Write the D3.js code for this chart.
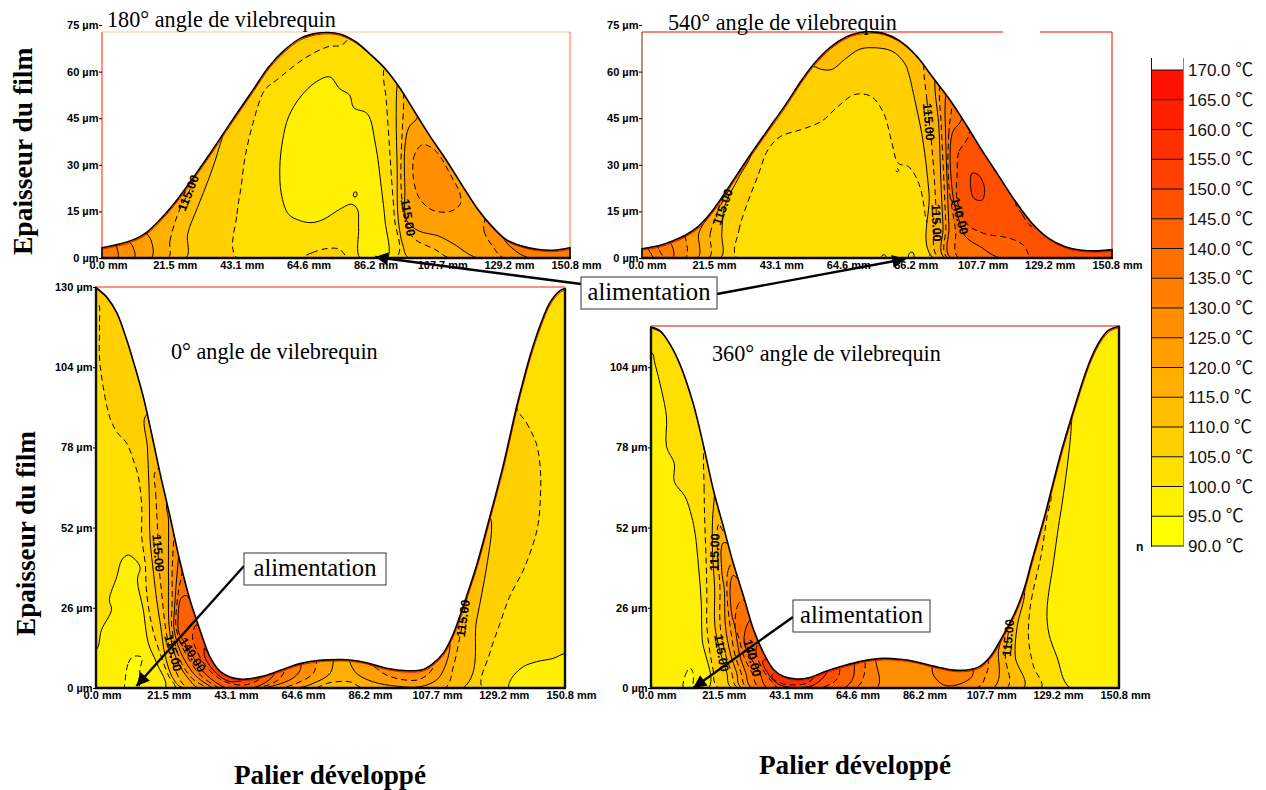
<!DOCTYPE html>
<html><head><meta charset="utf-8">
<style>html,body{margin:0;padding:0;background:#fff}svg{display:block}</style>
<script src="https://d3js.org/d3.v7.min.js"></script>
</head><body><svg id="c" width="1266" height="790"></svg>
<script>
// ---------- data: (mm along the bearing, µm of film) ----------
const xTicks=[0,21.5,43.1,64.6,86.2,107.7,129.2,150.8];
const yTicksSmall=[0,15,30,45,60,75];
const yTicks0=[0,26,52,78,104,130];
const yTicks360=[0,26,52,78,104];
const legendLevels=[170,165,160,155,150,145,140,135,130,125,120,115,110,105,100,95,90];

const profile180=[[0,3.3],[5.3,4.4],[10.4,6],[14.3,8.2],[19.3,13],[24.4,19],[29.5,26],[34.6,33.3],[38.4,39],[43.5,46.6],[48.6,54],[53.7,61.5],[58.8,66.9],[63.9,70.7],[69,72.3],[72.8,72.6],[76.6,72.1],[81.7,69.6],[86.8,65.3],[91.2,61],[95.7,55.1],[100.8,47],[105.9,38.9],[111,31.4],[116.1,23.3],[121.1,15.7],[125,10.9],[130.1,6],[135.1,3.9],[140.2,2.8],[145.3,2.5],[150.8,3.3]];
const profile540=[[0,3],[6,4.1],[9.9,5.5],[13.9,7.3],[17.9,10],[21.9,14.3],[25.8,19.7],[29.8,25.8],[35.1,33.7],[40.4,41.3],[45.7,48.8],[51,56.9],[55,62.3],[60.3,67.7],[65.6,71.2],[69.6,72.5],[73.5,72.8],[77.5,72.3],[82.8,69.8],[88.1,65],[93.4,58],[98.7,51],[104,42.9],[109.3,34.3],[114.6,26.2],[119.9,18.1],[125.2,11.1],[130.5,6.3],[135.8,3.6],[141.1,2.5],[146.4,2.3],[150.8,2.7]];
const profile0=[[0,129.8],[1.5,128.6],[3.4,126.8],[6.7,121.6],[9.9,112.8],[12.5,104.2],[15.2,94.4],[17.4,84.7],[20.6,69.6],[23.8,55.6],[27,41],[30.2,28.6],[33.4,18.9],[36.6,10.2],[39.9,5.4],[43.1,3.6],[46.3,2.9],[49.5,3],[52.7,3.6],[57,4.9],[61.3,6.5],[65.6,7.9],[72,9],[78.5,9.2],[81.6,9.1],[87,8.2],[93.4,6.4],[99.9,5.6],[105.2,6],[108.4,8],[111.6,11.2],[114.9,17.6],[119.1,29.6],[122.4,39.8],[126.6,55.4],[130.9,72],[135.2,91],[137.4,99.7],[139.6,107.8],[142.8,117.5],[146,125],[149.2,128.8],[150.8,129.5]];
const profile360=[[0,117],[2.9,115.8],[6.1,111.5],[9.3,105],[13.6,92.2],[17,78.2],[20.1,64.2],[23.3,52.4],[26.5,40.5],[29.8,29.8],[33,19],[36.2,11.5],[39.4,6.1],[42.6,3.8],[46.9,2.9],[51.2,3.4],[55.5,5.1],[62,7.2],[68.4,8.8],[74.9,9.6],[80.3,9.3],[84.6,8.7],[91,7.1],[97.5,5.8],[102.9,6],[106.1,7.1],[109.3,10.1],[112.6,15.5],[116.9,23.6],[120.1,31.7],[122.8,41.5],[127.1,56.7],[129.8,67.4],[132.5,77.7],[135.7,88.5],[138.9,98.8],[141.6,106.4],[144.8,112.8],[147.5,116],[150.8,117.3]];

// each region: temperature band it fills, dashed outline or not, outline points
const regions180=[
 {t:100,dash:1,p:[[43.5,0],[43.5,14.1],[44.8,22.7],[46.1,32.4],[48.6,43.2],[52.4,54],[56.2,57.2],[65.2,64.2],[72.8,68],[77.2,68.5],[79.8,71.2],[81.7,74],[94.4,66],[90.9,61],[91.6,50.8],[92.5,37.8],[93.2,27],[94.2,13],[94.8,0]]},
 {t:95,dash:0,p:[[73.4,58.3],[69,56.7],[63.9,51.8],[60.1,45.4],[58.2,37.8],[57.3,29.2],[57.8,20.6],[60.1,14.1],[63.9,12],[67.7,11.4],[71.5,12.5],[76.6,15.7],[80.4,17.3],[82.3,15.7],[82.7,9.8],[83.2,0],[91.9,0],[91.2,12],[90,22.7],[88.1,36.7],[85.5,46.4],[81.1,48.4],[79.8,52.4],[76.6,54.5]]},
 {t:100,dash:0,p:[[81,20],[81.3,21.2],[82,21.2],[82.1,20],[81.5,19.6]]},
 {t:105,dash:1,p:[[64.5,0],[67.7,1.7],[72.8,3.1],[76.6,2.8],[78.5,0.6],[78.9,0]]},
 {t:110,dash:0,p:[[27,0],[27.6,7.7],[30.8,16.3],[34.6,26],[37.8,35.7],[38.7,40],[35.9,42],[20,60],[-5,60],[-5,0]]},
 {t:115,dash:1,p:[[21.3,0],[21.9,5.5],[24.4,14.1],[29.5,26],[27,30],[-5,30],[-5,0]]},
 {t:120,dash:0,p:[[15.9,0],[15.9,5.5],[14.3,8.2],[13,12],[-5,12],[-5,0]]},
 {t:125,dash:0,p:[[10.4,0],[9.8,3.9],[8.5,5.5],[7,9],[-5,9],[-5,0]]},
 {t:130,dash:0,p:[[5,0],[4.7,3.9],[4,7],[-5,7],[-5,0]]},
 {t:110,dash:0,p:[[95.1,55.6],[94.8,45.4],[95.1,29.2],[95.4,13],[97,3.9],[98.9,0],[155,-1],[155,40],[110,70],[96,60]]},
 {t:115,dash:1,p:[[97.2,53],[97.2,49.7],[96.7,40],[96.3,29.2],[96.7,18.4],[98.9,8.7],[100.8,6],[107.2,2.8],[112.2,0],[155,-1],[155,40],[110,70],[98,58]]},
 {t:120,dash:0,p:[[101.4,44.8],[98.9,42.1],[97.6,35.7],[97.6,22.7],[98.2,12],[102.1,8.7],[108.4,7.1],[113.5,4.4],[121.1,0],[155,-1],[155,40],[115,60],[103,50]]},
 {t:125,dash:1,p:[[103.3,36.5],[100.8,33.5],[100.2,27],[102.1,19.5],[106.5,15.4],[112.2,15],[115.4,17.3],[115.4,20.6],[112.2,27],[108.4,33.5],[105.9,35.7]]},
 {t:125,dash:1,p:[[123.4,12.5],[123.1,8.7],[126.2,3.3],[129.4,0],[155,-1],[155,20],[126,20]]},
 {t:130,dash:0,p:[[129,7.1],[132.6,2.8],[137.7,0],[155,-1],[155,20],[127,20]]}
];
const regions540=[
 {t:100,dash:1,p:[[30.5,0],[31.1,8.9],[33.8,17.6],[37.1,26.2],[40.4,34.8],[44.4,39.1],[51,41.3],[57.6,44],[62.9,48.8],[68.2,52.6],[73.5,52],[77.5,46.7],[80.2,37],[82.2,30.5],[85.5,29.4],[88.8,24],[90.8,14.3],[91.7,0]]},
 {t:100,dash:0,p:[[85.6,0.2],[85.6,1.2],[86.3,1.9],[87,1.7],[87.3,0.8],[87,0]]},
 {t:100,dash:0,p:[[76.8,0.2],[77,0.8],[77.8,1],[78.4,0.2]]},
 {t:100,dash:1,p:[[81.5,29],[81.5,28],[82,27.8],[82.4,28.2]]},
 {t:110,dash:0,p:[[54.7,61.7],[57.6,60.7],[61,60.7],[65,63.9],[69.6,67.1],[73.5,67.7],[80.2,66.6],[84.2,62.8],[85.5,59.6],[87.5,51],[90.1,38],[92.1,20.8],[93.4,0],[155,-1],[155,80],[50,80],[50,60]]},
 {t:110,dash:0,p:[[35,33.7],[31.2,26.2],[26.5,16.5],[25.6,7.9],[25.2,0],[-5,0],[-5,40],[33,40]]},
 {t:115,dash:1,p:[[21.5,0],[21.9,7.9],[24.5,15.4],[28.5,24.6],[26,30],[-5,30],[-5,0]]},
 {t:120,dash:0,p:[[17.9,0],[18.2,7.9],[20.5,12.2],[21.9,14.3],[19,20],[-5,20],[-5,0]]},
 {t:125,dash:1,p:[[13.9,0],[13.9,6.8],[12,12],[-5,12],[-5,0]]},
 {t:130,dash:0,p:[[9.9,0],[9.3,4.6],[8,5.2],[7,8],[-5,8],[-5,0]]},
 {t:130,dash:1,p:[[6.6,0],[5.3,3],[4.5,6],[-5,6],[-5,0]]},
 {t:130,dash:0,p:[[3.3,0],[2,3],[1.5,6],[-5,6],[-5,0]]},
 {t:115,dash:1,p:[[90.5,64],[91.4,51],[92.8,38],[93.7,27],[94.4,15],[95.2,0],[155,-1],[155,80],[95,80]]},
 {t:120,dash:0,p:[[94,57.5],[95.2,43],[96,22],[96.6,10],[97,0],[155,-1],[155,80],[98,80]]},
 {t:125,dash:1,p:[[95.5,56],[96,43],[97,22],[97.5,10],[98,0],[155,-1],[155,80],[100,80]]},
 {t:130,dash:0,p:[[97.4,52],[97.4,40],[98,22],[98.5,10],[99,0],[155,-1],[155,80],[102,80]]},
 {t:135,dash:1,p:[[99.5,49],[98.4,40],[98.4,24],[100.6,9],[101.6,0],[155,-1],[155,80],[104,80]]},
 {t:140,dash:0,p:[[102.7,45],[99.5,40],[99.5,22],[101.1,14.4],[103.8,6.9],[108.6,3.6],[115,0],[155,-1],[155,80],[106,80]]},
 {t:145,dash:1,p:[[103.8,37.4],[101.6,34],[101.1,27.2],[101.1,18.6],[104.3,11],[109.7,7.9],[118.2,6.3],[122.5,4],[125.2,0],[155,-1],[155,80],[106,80],[105,40]]},
 {t:145,dash:1,p:[[120,18],[122,14],[124.5,10.5],[127,10],[135,20]]},
 {t:150,dash:0,p:[[105.9,27.3],[105.4,23.5],[106.5,19.2],[109.1,18.6],[109.9,22.4],[108,26.7]]}
];
const regions0=[
 {t:100,dash:1,p:[[0.5,125],[1.1,117.7],[1.1,107.4],[2.3,97.7],[4.5,87.5],[6.7,83],[9.9,79.3],[12,73.9],[13.6,68.5],[14.7,58.8],[14.7,49.1],[15.8,40.5],[16.3,30.7],[18,20],[20.2,12.4],[23.4,3.8],[25.4,0],[-5,0],[-5,125]]},
 {t:100,dash:1,p:[[135.2,91],[138.4,86],[141.6,79.2],[142.9,70.6],[142.9,61.9],[142.2,53.3],[140.6,46.8],[137.4,38.2],[133,29.6],[129.9,20.9],[126.6,11.2],[124.3,0],[155,-1],[155,135],[130,135]]},
 {t:95,dash:0,p:[[0,12.4],[1.8,18.9],[5,25.4],[4.3,28.6],[6.7,36.1],[8.3,41.5],[10.4,43.1],[14.1,39.4],[13.3,35],[15.2,25.4],[16.8,14.6],[19.5,8.1],[22.2,0],[-5,0],[-5,12.4]]},
 {t:90,dash:1,p:[[9.3,1.6],[10.4,8.1],[12,10.2],[14.7,9.9],[14.1,5.9],[13.6,0],[9.3,0]]},
 {t:95,dash:0,p:[[132.9,0],[133.6,3.1],[137.4,6.9],[141.6,8.5],[147,9.6],[150.8,11.2],[155,11],[155,0]]},
 {t:110,dash:0,p:[[15.8,87.9],[16.5,78.2],[17.1,63.1],[17.4,48],[18.5,37.2],[19.5,28.6],[20.8,20],[22.3,10.2],[25,2.7],[28.1,0],[118.1,0],[122.4,22],[125.6,39.3],[127.2,52.2],[126.6,55.4],[120,60],[60,60],[20,90]]},
 {t:115,dash:1,p:[[19,70],[19.2,63.1],[19.8,51.2],[20,42.6],[21,31.8],[22.3,20],[23.5,13.5],[25.9,4.9],[29.7,0],[70,0],[75.2,1.7],[81.6,2],[85.9,0],[112.2,0],[114.9,6.9],[117,16.6],[118,22],[118,40],[60,40],[22,72]]},
 {t:120,dash:0,p:[[23.3,54.5],[23.3,45],[23.3,35],[23.5,20],[24.5,14],[26.5,8],[30,2.7],[33,0],[64.5,0],[69.8,1.5],[75.2,4.7],[76.3,8.5],[76,30],[30,60],[23,60]]},
 {t:120,dash:0,p:[[81.6,9.5],[81.6,8.5],[83.8,4.7],[89.1,2],[96.6,0.6],[104.1,0.4],[109.5,2.6],[112.2,6.9],[113.8,14.5],[112,20],[90,20]]},
 {t:125,dash:1,p:[[25,48],[24.5,38],[24.5,28],[24.3,20],[25.5,14],[27.5,8],[31,3],[35,0.5],[36,0],[58,0],[61.3,0.4],[65.6,2],[69.8,4.7],[70.9,8.5],[71,30],[30,60],[26,60]]},
 {t:125,dash:1,p:[[87,8.6],[89.5,6.9],[93.4,4.2],[99.3,2.6],[104.1,2.8],[107.9,5.8],[108.5,8.5],[100,15],[88,15]]},
 {t:130,dash:0,p:[[26.5,42],[25.8,34],[25.2,25],[25,20],[26.3,14],[28.5,9],[32,4],[36,1],[38,0],[53,0],[58,1],[63,3],[65.5,5.5],[66,8],[66,30],[30,50],[27,50]]},
 {t:135,dash:1,p:[[27.6,37],[26.6,32],[25.8,25],[25.7,20],[27,15],[29.5,10],[33,4.8],[37,1.5],[40,0],[51,0],[56,1.2],[59,3],[61,6.8],[61,30],[30,45],[28,45]]},
 {t:140,dash:0,p:[[30.7,28],[29,30],[27.3,29],[26.4,23],[26.6,18],[28,15.5],[31,10.5],[34,5.8],[38,2.2],[42,0],[50,0],[54,1.5],[57,4],[57.5,6],[57,30],[35,35],[31,35]]},
 {t:145,dash:1,p:[[33.9,19.2],[32.3,20.5],[31,17],[32,13],[35,7.5],[39,3.5],[43,1.5],[48,1],[52,2.5],[54,4.5],[54,30],[36,30],[34.5,22]]},
 {t:150,dash:0,p:[[36,11.5],[34.9,13],[35,10],[38.8,4.7],[43,2.1],[47,2.4],[50,3.5],[52,4.2],[52,20],[38,20],[37,13]]}
];
const regions360=[
 {t:95,dash:0,p:[[0.2,108.8],[1.3,105],[3.4,96.5],[5,87.8],[5,78.2],[7.5,72.8],[7.5,66.9],[11,62],[13.1,55.6],[14.2,50.2],[15.3,39.5],[16.2,27.6],[16.5,15.8],[18.5,0],[-5,0],[-5,109]]},
 {t:95,dash:0,p:[[135.7,88.5],[135.2,81.5],[134.1,71.7],[132.5,60],[131.3,52.3],[129.8,41.5],[127.6,25.2],[128.2,17.7],[130.8,10.1],[135.1,0],[155,-1],[155,125],[140,125]]},
 {t:90,dash:1,p:[[10.5,0],[11,4],[12.5,6.5],[13.5,5],[13,0]]},
 {t:105,dash:1,p:[[17,78.2],[17.1,65],[17.3,54.5],[17.8,40],[18,30],[18,20],[19,11.5],[20,6],[21.7,0],[125.7,0],[123.3,6.9],[121.7,15.5],[122.2,26.3],[125.4,41.5],[126,44.7],[127.6,55.5],[128.8,63],[124,70],[60,60],[18,85]]},
 {t:110,dash:0,p:[[20.5,63],[19.8,54],[19.8,44],[20.5,33],[20.6,20],[22.5,11],[24.4,5],[26,0],[120.1,0],[117.4,10],[118,20],[120.4,31],[119,40],[60,60],[21,70]]},
 {t:115,dash:1,p:[[24,50],[21.8,53],[21.4,44],[22.2,33],[22.3,20],[24,11],[26,5],[28,0],[114.7,0],[114.2,10],[115,17],[116,24],[114,40],[60,60],[26,60]]},
 {t:120,dash:0,p:[[25.5,47],[23.2,47],[22.8,38],[23.6,32],[24,20],[25.6,11],[27.6,5],[29.2,0],[110.4,0],[112,12.3],[113,17],[112,30],[60,60],[27,60]]},
 {t:125,dash:1,p:[[26.5,42],[24.8,38],[24.5,30],[25.5,20],[27,11],[29,5],[31,0],[105.6,0.4],[107.7,3.7],[108.8,8.5],[105,20],[60,60],[28,55]]},
 {t:130,dash:0,p:[[28.2,35.5],[26.5,36.5],[25.6,34],[26,24],[27,20],[28.5,11],[30.5,5],[32.5,0],[72.8,0],[72.3,9.8],[70,30],[30,50]]},
 {t:130,dash:0,p:[[90.5,7.5],[91,4.2],[94.3,1],[98.6,1],[103.4,3.7],[103.7,6.5],[100,15],[90,15]]},
 {t:135,dash:1,p:[[30.3,29],[28.2,27.4],[27.1,20],[28.2,16.6],[30,10],[32.5,5],[35,0],[66.4,0.4],[68.5,3.7],[69,8.8],[66,30],[32,40]]},
 {t:140,dash:0,p:[[32.5,23],[30.9,20.4],[30,15],[32,10],[35,5],[37.5,0],[62,0],[65,3],[65.5,8.5],[62,30],[33,30]]},
 {t:145,dash:1,p:[[35,16],[33.8,12],[36,6],[39,2],[41,0],[56,0.5],[60,3],[61,7.5],[60,25],[36,22]]},
 {t:150,dash:0,p:[[37.5,10],[36,8.5],[37.5,5],[40,2],[43,0.5],[51,0.5],[54,2],[57,6],[55,20],[38.5,15]]},
 {t:155,dash:1,p:[[40,6.3],[39,3.5],[42,1.5],[46,1],[50,1.5],[53,4.4],[50,15],[41,12]]}
];
// contour labels: text, mm, µm, rotation
const labels180=[["115.00",27.9,20.9,-68],["115.00",98.5,13,80]];
const labels540=[["115.00",26,16.4,-70],["115.00",91.9,43.8,85],["115.00",94.4,11.3,88],["140.00",101.8,13.5,75]];
const labels0=[["115.00",19.9,43.7,85],["115.00",24.7,11.3,75],["140.00",30.9,10.7,58],["115.00",118.1,22.6,-82]];
const labels360=[["115.00",20.6,44,-88],["115.00",22.6,11.3,80],["140.00",32.6,9.7,75],["115.00",115.2,16.2,-85]];

// ---------- drawing ----------
const svg=d3.select("#c");
const SANS="'Liberation Sans',Arial,sans-serif", SERIF="'Liberation Serif','Times New Roman',serif";
const tempColor=d3.scaleLinear().domain([90,170]).range(["#ffff00","#ff0000"]);
const defs=svg.append("defs");
defs.append("marker").attr("id","head").attr("viewBox","0 0 10 10").attr("refX",10).attr("refY",5)
 .attr("markerUnits","userSpaceOnUse").attr("markerWidth",18).attr("markerHeight",13).attr("orient","auto")
 .append("path").attr("d","M0,0L10,5L0,10Z").attr("fill","#000");

function panel(id,box,yMax,yTop,prof,regs,labs,yT,base,opt){
 const x=d3.scaleLinear().domain([0,150.8]).range([box.l,box.r]);
 const y=d3.scaleLinear().domain([0,yMax]).range([box.b,yTop]);
 const g=svg.append("g");
 const top=d3.line().x(d=>x(d[0])).y(d=>y(d[1])).curve(d3.curveCatmullRom.alpha(.5));
 const outline=top(prof)+`L${x(150.8)},${y(0)}L${x(0)},${y(0)}Z`;
 defs.append("clipPath").attr("id",id).append("path").attr("d",outline);
 const closed=d3.line().x(d=>x(d[0])).y(d=>y(d[1])).curve(d3.curveCatmullRomClosed.alpha(.5));
 opt.frame.forEach(f=>g.append("line").attr("x1",f[0]).attr("y1",f[1]).attr("x2",f[2]).attr("y2",f[3])
   .attr("stroke",f[4]).attr("stroke-width",1));
 const body=g.append("g").attr("clip-path",`url(#${id})`);
 body.append("path").attr("d",outline).attr("fill",tempColor(base));
 body.selectAll("path.r").data(regs).join("path").attr("class","r").attr("d",d=>closed(d.p))
  .attr("fill",d=>tempColor(d.t)).attr("stroke","#000").attr("stroke-width",1)
  .attr("stroke-dasharray",d=>d.dash?"6,4":null);
 // thin red edge left just inside the outline in the source picture
 body.append("path").attr("d",top(prof)).attr("fill","none").attr("stroke","#f01000").attr("stroke-width",1).attr("transform","translate(0.6,1.4)");
 g.append("path").attr("d",outline).attr("fill","none").attr("stroke","#000").attr("stroke-width",1.6);
 g.append("line").attr("x1",box.l-1).attr("x2",box.r+1).attr("y1",y(0)).attr("y2",y(0)).attr("stroke","#000").attr("stroke-width",2.5);
 const ax=g.append("g").attr("transform",`translate(${box.l},0)`).call(d3.axisLeft(y).tickValues(yT).tickSize(3).tickFormat(d=>d+" µm"));
 ax.select(".domain").remove();
 ax.selectAll("line").attr("stroke","#000");
 ax.selectAll("text").attr("font-family",SANS).attr("font-weight","bold").attr("font-size",11).attr("fill","#000").attr("x",-3.5);
 const bx=g.append("g").attr("transform",`translate(0,${y(0)})`).call(d3.axisBottom(x).tickValues(xTicks).tickSize(0).tickFormat(d=>d.toFixed(1)+" mm"));
 bx.select(".domain").remove();
 bx.selectAll("text").attr("font-family",SANS).attr("font-weight","bold").attr("font-size",11).attr("fill","#000").attr("dx",opt.dx).attr("y",3);
 g.selectAll("text.l").data(labs).join("text").attr("class","l").text(d=>d[0])
  .attr("transform",d=>`translate(${x(d[1])},${y(d[2])}) rotate(${d[3]})`)
  .attr("text-anchor","middle").attr("dominant-baseline","central")
  .attr("font-family",SANS).attr("font-weight","bold").attr("font-size",12.5).attr("fill","#000");
 return {x,y};
}
const pA=panel("pA",{l:102,r:570,b:258},75,25,profile180,regions180,labels180,yTicksSmall,105,{dx:6,frame:[[102,32,102,258,"#ff2000"],[102,32,570,32,"#ffc090"],[570,32,570,258,"#ff7030"]]});
const pB=panel("pB",{l:642,r:1112,b:258},75,25,profile540,regions540,labels540,yTicksSmall,105,{dx:5,frame:[[642,32,1003,32,"#e81000"],[1040,32,1112,32,"#e81000"],[1112,32,1112,258,"#e81000"],[642,32,642,258,"#802000"]]});
const pC=panel("pC",{l:96,r:565,b:688},130,287,profile0,regions0,labels0,yTicks0,105,{dx:6,frame:[[96,287,565,287,"#ff2000"]]});
const pD=panel("pD",{l:651,r:1119,b:688},130,287,profile360,regions360,labels360,yTicks360,100,{dx:6,frame:[[651,326,1119,326,"#c01800"]]});

[[pC,150.8,129.5],[pC,0,129.8],[pD,0,117],[pD,150.8,117.3]].forEach(([p,m,h])=>{
 svg.append("line").attr("x1",p.x(m)).attr("x2",p.x(m)).attr("y1",p.y(0)).attr("y2",p.y(h)).attr("stroke","#111").attr("stroke-width",2.4);
});

function serif(txt,x,y,size,bold,rot){
 const t=svg.append("text").text(txt).attr("font-family",SERIF).attr("font-size",size).attr("fill","#000");
 if(bold)t.attr("font-weight","bold");
 if(rot!==undefined)t.attr("transform",`translate(${x},${y}) rotate(${rot})`);else t.attr("x",x).attr("y",y);
 return t;
}
serif("180° angle de vilebrequin",107,27,22.2);
serif("540° angle de vilebrequin",668,30,22.2);
serif("0° angle de vilebrequin",171,359,22.2);
serif("360° angle de vilebrequin",712,361,22.2);
serif("Palier développé",234,784,27.2,true);
serif("Palier développé",759,774,27.2,true);
serif("Epaisseur du film",32,255,27.5,true,-90);
serif("Epaisseur du film",35,636,27.2,true,-90);

function arrow(x1,y1,x2,y2){svg.append("line").attr("x1",x1).attr("y1",y1).attr("x2",x2).attr("y2",y2)
 .attr("stroke","#000").attr("stroke-width",2.4).attr("marker-end","url(#head)");}
arrow(581,284,pA.x(88),pA.y(0)-1);
arrow(717,294,pB.x(84.5),pB.y(0)+1);
arrow(244,566,pC.x(13),pC.y(0)-2);
arrow(793,617,pD.x(13.6),pD.y(0));
function feedBox(x,y,w,h){
 svg.append("rect").attr("x",x).attr("y",y).attr("width",w).attr("height",h).attr("fill","#fff").attr("stroke","#333").attr("stroke-width",1);
 svg.append("text").text("alimentation").attr("x",x+w/2).attr("y",y+h-9).attr("text-anchor","middle")
  .attr("font-family",SERIF).attr("font-size",24.6).attr("fill","#000");
}
feedBox(581,277,136,32);
feedBox(244,553,142,32);
feedBox(793,600,137,32);

const ly=d3.scaleLinear().domain([170,90]).range([70,546]);
const lg=svg.append("g");
lg.append("rect").attr("x",1152).attr("y",58).attr("width",31).attr("height",12).attr("fill","#fff");
lg.selectAll("rect.c").data(legendLevels.slice(1)).join("rect").attr("class","c")
 .attr("x",1152).attr("width",31).attr("y",d=>ly(d+5)).attr("height",d=>ly(d)-ly(d+5)).attr("fill",d=>tempColor(d));
lg.selectAll("line.s").data(legendLevels).join("line").attr("class","s")
 .attr("x1",1152).attr("x2",1183).attr("y1",d=>ly(d)).attr("y2",d=>ly(d)).attr("stroke","#111").attr("stroke-width",1);
lg.append("line").attr("x1",1151.5).attr("x2",1151.5).attr("y1",58).attr("y2",547).attr("stroke","#111");
lg.append("line").attr("x1",1183.5).attr("x2",1183.5).attr("y1",58).attr("y2",547).attr("stroke","#888");
const lt=lg.selectAll("text").data(legendLevels).join("text")
 .attr("x",1188).attr("y",d=>ly(d)).attr("dy","0.36em").attr("font-family",SANS).attr("font-size",17).attr("fill","#111");
lt.append("tspan").text(d=>d.toFixed(1)+" ");
lt.append("tspan").text("℃").attr("font-family","'Noto Sans CJK SC'").attr("font-size",18);
svg.append("text").text("n").attr("x",1136).attr("y",551).attr("font-family",SANS).attr("font-weight","bold").attr("font-size",12);
</script></body></html>
